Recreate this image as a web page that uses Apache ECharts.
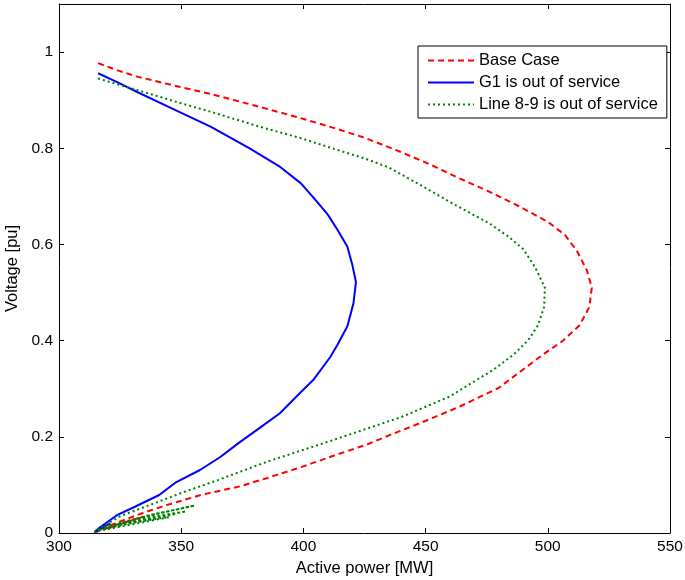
<!DOCTYPE html>
<html>
<head>
<meta charset="utf-8">
<script src="https://cdn.jsdelivr.net/npm/echarts@6/dist/echarts.min.js"></script>
<style>
  html, body { margin: 0; padding: 0; background: #fff; }
  #chart { width: 685px; height: 580px; }
</style>
</head>
<body>
<div id="chart"></div>
<script>
// P-V curves: active power [MW] vs. voltage [pu]
const seriesNames = ['Base Case', 'G1 is out of service', 'Line 8-9 is out of service'];

const baseCase = [
  [316, 0.977], [324, 0.962], [332, 0.949], [345, 0.933], [362, 0.913], [380, 0.889],
  [398, 0.864], [412, 0.843], [425, 0.822], [440, 0.792], [452, 0.766], [464, 0.737],
  [476, 0.710], [488, 0.680], [500, 0.647], [507, 0.620], [512, 0.586], [516, 0.546],
  [518, 0.510], [517, 0.470], [513, 0.432], [506, 0.399], [498, 0.371], [492, 0.348],
  [480, 0.302], [464, 0.263], [448, 0.229], [436, 0.205], [426, 0.184], [412, 0.160],
  [399, 0.137], [385, 0.114], [374, 0.097], [358, 0.079], [344, 0.058], [334, 0.041],
  [324, 0.022], [317, 0.008], [315, 0.002], [324, 0.018], [334, 0.033], [320, 0.010]
];

const g1Out = [
  [316, 0.956], [324, 0.937], [332, 0.917], [347, 0.881], [362, 0.845], [378, 0.800],
  [390, 0.763], [399, 0.727], [405, 0.692], [410, 0.662], [414, 0.630], [418, 0.595],
  [420, 0.558], [421.5, 0.522], [420.5, 0.478], [418, 0.430], [414, 0.392], [411, 0.366],
  [404, 0.318], [398.6, 0.291], [390.4, 0.249], [382, 0.218], [374, 0.189], [366, 0.158],
  [357.7, 0.131], [348, 0.106], [341, 0.079], [330, 0.052], [323.7, 0.037], [316.8, 0.012],
  [314.5, 0.002], [321, 0.020], [315, 0.005], [319, 0.015], [314.5, 0.001]
];

const line89Out = [
  [316, 0.945], [332, 0.921], [347, 0.898], [362, 0.876], [382, 0.845], [399, 0.821],
  [413, 0.798], [425, 0.779], [435, 0.760], [447, 0.726], [460, 0.688], [468, 0.666],
  [476, 0.644], [484, 0.616], [490, 0.590], [495, 0.551], [498.8, 0.510], [498.5, 0.470],
  [496, 0.432], [492, 0.401], [486, 0.371], [477.6, 0.339], [464, 0.297], [460, 0.284],
  [440, 0.241], [412, 0.193], [385, 0.148], [365, 0.110], [351, 0.085], [337, 0.058],
  [325, 0.035], [316, 0.008], [314.5, 0.002], [335, 0.035], [355.5, 0.057], [340, 0.040],
  [318, 0.012], [352, 0.045], [330, 0.028], [316, 0.006], [348, 0.040], [322, 0.015],
  [345, 0.033], [315, 0.003]
];

const xTicks = { min: 300, max: 550, interval: 50 };
const yTicks = { min: 0, max: 1.1, interval: 0.2 };

const FONT = 'Liberation Sans, Arial, Helvetica, sans-serif';
const chart = echarts.init(document.getElementById('chart'), null, { renderer: 'canvas' });

const boxAxisLine = { show: true, onZero: false, lineStyle: { color: '#000', width: 1 } };
const innerTick = { show: true, inside: true, length: 5, lineStyle: { color: '#000', width: 1 } };

chart.setOption({
  backgroundColor: '#fff',
  animation: false,
  grid: { left: 59, right: 15, top: 4, bottom: 47, containLabel: false, outerBoundsMode: 'none' },
  legend: {
    orient: 'vertical',
    left: 418,
    top: 46,
    padding: [6, 9, 5, 9],
    itemWidth: 46,
    itemHeight: 14,
    itemGap: 5,
    backgroundColor: '#fff',
    borderColor: '#000',
    borderWidth: 1,
    borderRadius: 0,
    itemStyle: { opacity: 0 },
    textStyle: { fontFamily: FONT, fontSize: 16.5, lineHeight: 14, color: '#000' },
    data: seriesNames
  },
  xAxis: [
    {
      type: 'value', position: 'bottom',
      min: xTicks.min, max: xTicks.max, interval: xTicks.interval,
      name: 'Active power [MW]', nameLocation: 'middle', nameGap: 25,
      nameTextStyle: { fontFamily: FONT, fontSize: 16.5, color: '#000' },
      axisLine: boxAxisLine, axisTick: innerTick,
      axisLabel: { fontFamily: FONT, fontSize: 15.5, color: '#000', margin: 6 },
      splitLine: { show: false }
    },
    {
      type: 'value', position: 'top',
      min: xTicks.min, max: xTicks.max, interval: xTicks.interval,
      axisLine: boxAxisLine, axisTick: innerTick,
      axisLabel: { show: false }, splitLine: { show: false }
    }
  ],
  yAxis: [
    {
      type: 'value', position: 'left',
      min: yTicks.min, max: yTicks.max, interval: yTicks.interval,
      name: 'Voltage [pu]', nameLocation: 'middle', nameGap: 36, nameRotate: 90,
      nameTextStyle: { fontFamily: FONT, fontSize: 16.5, color: '#000' },
      axisLine: boxAxisLine, axisTick: innerTick,
      axisLabel: {
        fontFamily: FONT, fontSize: 15.5, color: '#000', margin: 6,
        showMaxLabel: false,
        formatter: v => (v > 1.05 ? '' : String(+v.toFixed(1)))
      },
      splitLine: { show: false }
    },
    {
      type: 'value', position: 'right',
      min: yTicks.min, max: yTicks.max, interval: yTicks.interval,
      axisLine: boxAxisLine, axisTick: innerTick,
      axisLabel: { show: false }, splitLine: { show: false }
    }
  ],
  series: [
    {
      name: seriesNames[0], type: 'line', data: baseCase, symbol: 'none',
      lineStyle: { color: '#ff0000', width: 2, type: [6, 4] },
      itemStyle: { color: '#ff0000' }
    },
    {
      name: seriesNames[1], type: 'line', data: g1Out, symbol: 'none',
      lineStyle: { color: '#0000ff', width: 2, type: 'solid' },
      itemStyle: { color: '#0000ff' }
    },
    {
      name: seriesNames[2], type: 'line', data: line89Out, symbol: 'none',
      lineStyle: { color: '#008000', width: 2, type: [2, 3] },
      itemStyle: { color: '#008000' }
    }
  ]
});
</script>
</body>
</html>
